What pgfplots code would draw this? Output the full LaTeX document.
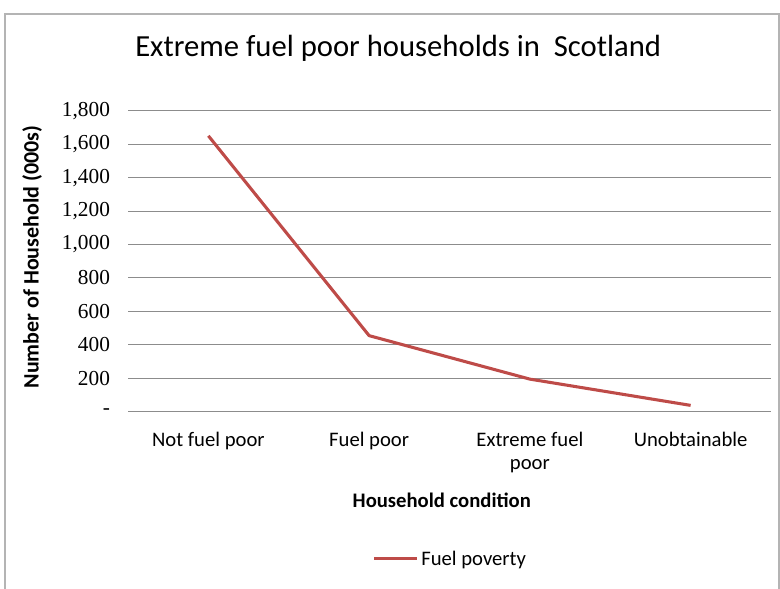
\documentclass[border=0pt]{standalone}
\usepackage{pgfplots}
\pgfplotsset{compat=1.18}
\usepackage{fontspec}
\setmainfont{Carlito}
\newfontfamily\numfont{Liberation Serif}
\definecolor{linered}{HTML}{BE4B48}
\definecolor{gridgray}{HTML}{8C8C8C}
\definecolor{framegray}{HTML}{B4B4B4}
\begin{document}
\begin{tikzpicture}[x=0.75pt,y=0.75pt]
\useasboundingbox (0,0) rectangle (780,588);
\draw[framegray, line width=1.1pt] (5,-5) -- (5,574) -- (779,574) -- (779,-5);
\node[anchor=base west, inner sep=0pt, font=\fontsize{23}{27}\selectfont] at (135,531) {Extreme fuel poor households in\ \ Scotland};
\begin{axis}[
  at={(96pt,132.2pt)}, anchor=south west,
  scale only axis, width=482.25pt, height=225.75pt,
  xmin=-0.5, xmax=3.5, ymin=0, ymax=1800,
  xtick={0,1,2,3},
  xticklabels={Not fuel poor, Fuel poor, Extreme fuel\\poor, Unobtainable},
  xticklabel style={align=center, font=\fontsize{15.5}{17.5}\selectfont, yshift=-11.5pt},
  ytick={0,200,400,600,800,1000,1200,1400,1600,1800},
  yticklabels={{-\hspace{11pt}},200,400,600,800,{1,000},{1,200},{1,400},{1,600},{1,800}},
  yticklabel style={font=\numfont\fontsize{16}{18}\selectfont, xshift=-10pt},
  ymajorgrids, grid style={gridgray, line width=0.75pt},
  axis line style={draw=none}, major tick length=0pt,
  xlabel={\textbf{Household condition}},
  xlabel style={at={(axis description cs:0.488,-0.293)}, anchor=center, font=\fontsize{15.5}{17.5}\selectfont},
  ylabel={\textbf{Number of Household (000s)}},
  ylabel style={at={(axis description cs:-0.149,0.514)}, anchor=center, rotate=0, font=\fontsize{16.5}{18.5}\selectfont},
  legend style={at={(axis description cs:0.502,-0.489)}, anchor=center, draw=none, fill=none,
    font=\fontsize{15.5}{17.5}\selectfont, inner sep=0pt},
  legend image code/.code={\draw[#1, line width=2.3pt] (0pt,0pt) -- (32pt,0pt);},
  clip=false,
]
\addplot[linered, line width=2.3pt, line join=round] coordinates {
  (0,1650) (1,455) (2,195) (3,38)
};
\addlegendentry{Fuel poverty}
\end{axis}
\end{tikzpicture}
\end{document}
